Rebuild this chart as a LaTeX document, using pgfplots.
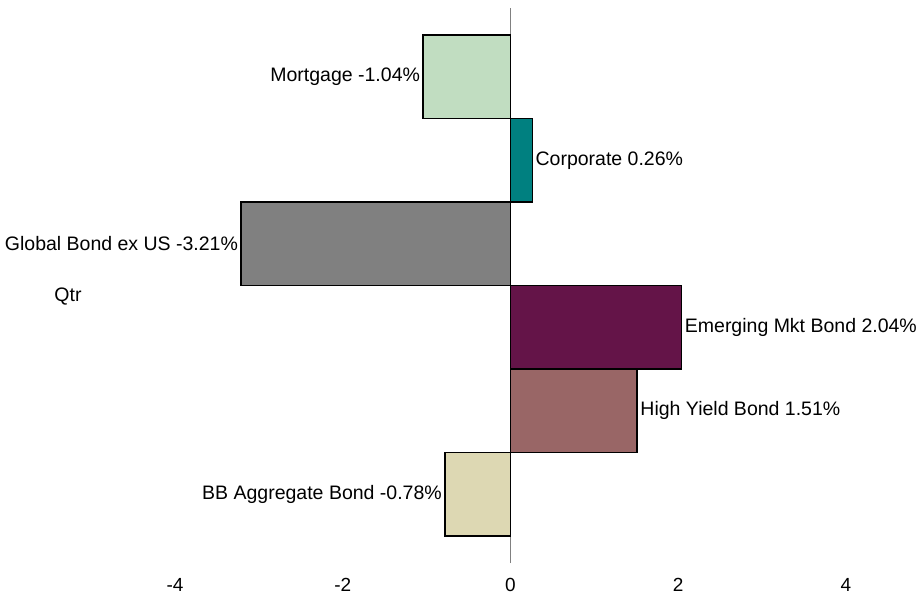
\documentclass[border=0pt]{standalone}
\usepackage{pgfplots}
\pgfplotsset{compat=1.18}
\usepackage{fontspec}
\setmainfont{Liberation Sans}
\definecolor{cMort}{RGB}{193,221,193}
\definecolor{cCorp}{RGB}{0,128,128}
\definecolor{cGlob}{RGB}{128,128,128}
\definecolor{cEmer}{RGB}{100,20,72}
\definecolor{cHY}{RGB}{153,102,102}
\definecolor{cBB}{RGB}{221,216,179}
\begin{document}
\begin{tikzpicture}[x=1pt,y=1pt]
\path (0,0) rectangle (920,598);
\node[font=\fontsize{19.5}{23}\selectfont] at (68,301) {Qtr};
\begin{axis}[
  at={(175pt,35pt)}, anchor=south west,
  scale only axis, width=671pt, height=555pt,
  xmin=-4, xmax=4, ymin=-0.823, ymax=5.823,
  xbar, bar width=1, bar shift=0pt,
  axis line style={draw=none},
  xtick={-4,-2,0,2,4}, ytick=\empty,
  major tick length=0pt,
  /pgf/number format/assume math mode=true,
  xticklabel style={font=\fontsize{19}{23}\selectfont, inner sep=0pt, yshift=-15pt},
  point meta=explicit symbolic,
  nodes near coords,
  every node near coord/.append style={font=\fontsize{19.5}{23}\selectfont, inner sep=2.5pt, text=black},
  every axis plot/.append style={draw=black, line width=1.6pt},
  clip=false,
]
\draw[gray, line width=0.8pt] (axis cs:0,-0.823) -- (axis cs:0,5.823);
\addplot[fill=cMort, nodes near coords style={anchor=east}] coordinates {(-1.04,5) [Mortgage -1.04\%]};
\addplot[fill=cCorp, nodes near coords style={anchor=west}] coordinates {(0.26,4) [Corporate 0.26\%]};
\addplot[fill=cGlob, nodes near coords style={anchor=east}] coordinates {(-3.21,3) [Global Bond ex US -3.21\%]};
\addplot[fill=cEmer, nodes near coords style={anchor=west}] coordinates {(2.04,2) [Emerging Mkt Bond 2.04\%]};
\addplot[fill=cHY, nodes near coords style={anchor=west}] coordinates {(1.51,1) [High Yield Bond 1.51\%]};
\addplot[fill=cBB, nodes near coords style={anchor=east}] coordinates {(-0.78,0) [BB Aggregate Bond -0.78\%]};
\end{axis}
\end{tikzpicture}
\end{document}
